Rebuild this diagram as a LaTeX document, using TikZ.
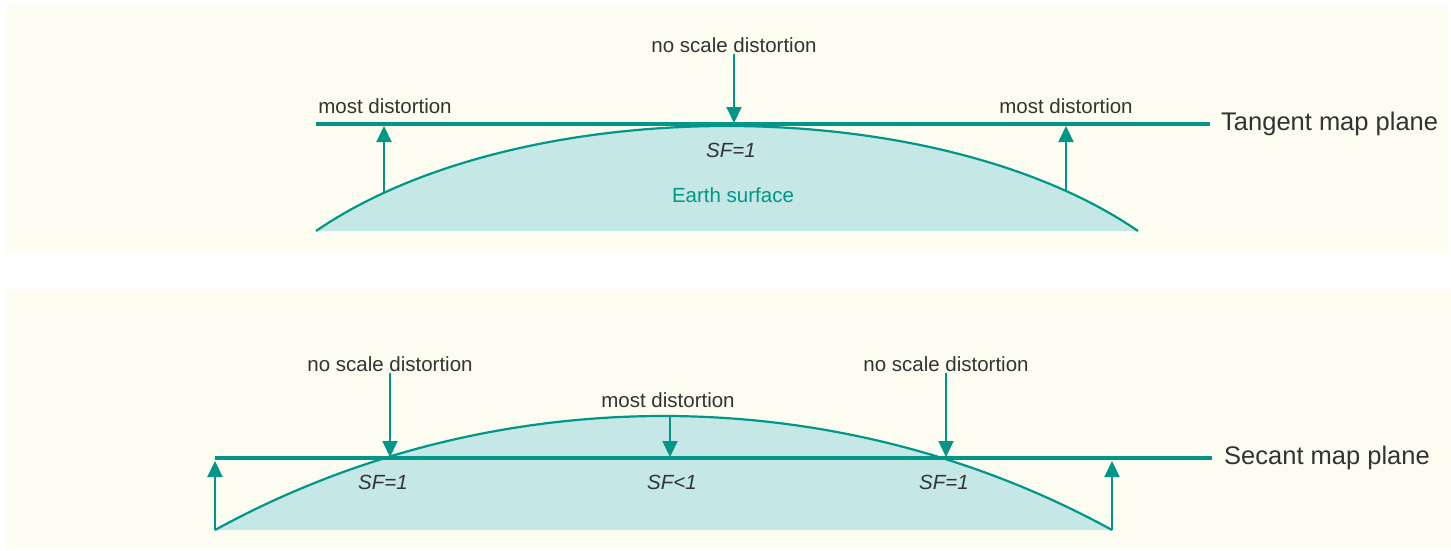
\documentclass[tikz,border=0pt]{standalone}
\usepackage{fontspec}
\setmainfont{Liberation Sans}
\usetikzlibrary{arrows.meta}
\definecolor{mapteal}{RGB}{0,150,136}
\definecolor{earthfill}{RGB}{197,231,229}
\definecolor{panelbg}{RGB}{252,252,240}
\definecolor{labelgray}{RGB}{51,51,51}

\begin{document}
\begin{tikzpicture}[x=1pt, y=-1pt,
    lbl/.style={font=\fontsize{20.5}{24}\selectfont, text=labelgray, inner sep=1pt},
    sf/.style={font=\fontsize{20.5}{24}\selectfont\itshape, text=labelgray, inner sep=1pt},
    plane/.style={font=\fontsize{25.5}{30}\selectfont, text=labelgray, anchor=west, inner sep=0pt},
    mapline/.style={line width=4pt, mapteal},
    surf/.style={line width=2.2pt, mapteal},
    arr/.style={line width=2pt, mapteal, -{Triangle[width=15pt,length=16pt]}},
]
    \useasboundingbox (0,0) rectangle (1451,551);
    \fill[panelbg] (6,5) rectangle (1448,253);
    \fill[panelbg] (6,289) rectangle (1451,549);

    % tangent plane
    \coordinate (t0) at (316,231);
    \coordinate (t1) at (1138,231);
    \fill[earthfill] (t0) .. controls (520,91) and (934,91) .. (t1) -- cycle;
    \draw[surf] (t0) .. controls (520,91) and (934,91) .. (t1);
    \coordinate (tla) at (316,124);
    \coordinate (tlb) at (1210,124);
    \draw[mapline] (tla) -- (tlb);
    \node[plane] (tname) at (1221,124) {Tangent map plane};

    \node[lbl] (tns) at (734,45) {no scale distortion};
    \coordinate (tnsp) at (734,123);
    \draw[arr] (tns.south) -- (tnsp);
    \node[sf] (tsf) at (731,150) {SF=1};
    \node[lbl, text=mapteal] (earth) at (733,195) {Earth surface};

    \node[lbl] (tmdl) at (385,106) {most distortion};
    \coordinate (tcl) at (384,192);
    \coordinate (tpl) at (384,126);
    \draw[arr] (tcl) -- (tpl);
    \node[lbl] (tmdr) at (1066,106) {most distortion};
    \coordinate (tcr) at (1066,192);
    \coordinate (tpr) at (1066,126);
    \draw[arr] (tcr) -- (tpr);

    % secant plane
    \coordinate (s0) at (215,530);
    \coordinate (s1) at (1112,530);
    \fill[earthfill] (s0) .. controls (492,378) and (835,378) .. (s1) -- cycle;
    \draw[surf] (s0) .. controls (492,378) and (835,378) .. (s1);
    \coordinate (sla) at (215,458);
    \coordinate (slb) at (1212,458);
    \draw[mapline] (sla) -- (slb);
    \node[plane] (sname) at (1224,458) {Secant map plane};

    \node[lbl] (snsl) at (390,364) {no scale distortion};
    \coordinate (snpl) at (390,457);
    \draw[arr] (snsl.south) -- (snpl);
    \node[lbl] (snsr) at (946,364) {no scale distortion};
    \coordinate (snpr) at (946,457);
    \draw[arr] (snsr.south) -- (snpr);

    \node[lbl] (smd) at (668,400) {most distortion};
    \coordinate (stop) at (670,417);
    \coordinate (smp) at (670,457);
    \draw[arr] (stop) -- (smp);

    \node[sf] (ssfl) at (383,482) {SF=1};
    \node[sf] (ssfm) at (672,482) {SF<1};
    \node[sf] (ssfr) at (944,482) {SF=1};

    \coordinate (sal) at (215,461);
    \coordinate (sar) at (1112,461);
    \draw[arr] (s0) -- (sal);
    \draw[arr] (s1) -- (sar);
\end{tikzpicture}
\end{document}
